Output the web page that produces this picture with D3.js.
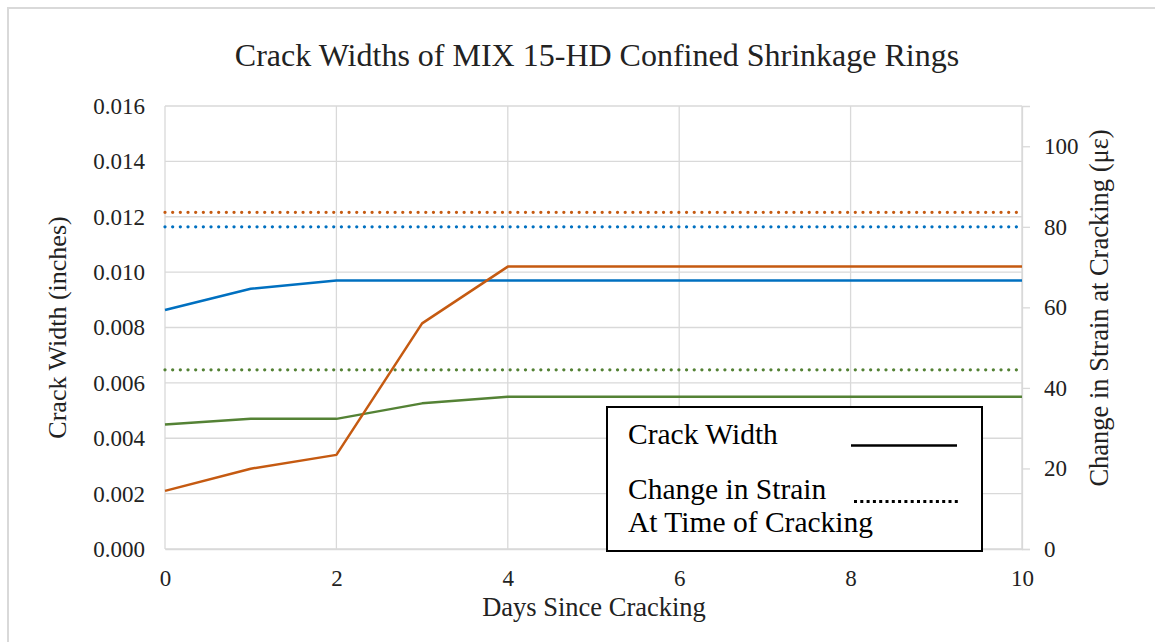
<!DOCTYPE html>
<html><head><meta charset="utf-8">
<script src="https://cdn.jsdelivr.net/npm/d3@7"></script>
<style>
html,body{margin:0;padding:0;background:#fff;}
svg{display:block;font-family:"Liberation Serif","Times New Roman",serif;}
</style></head>
<body>
<script>
const days = [0,1,2,3,4,5,6,7,8,9,10];
const crackBlue   = [0.00863,0.0094,0.0097,0.0097,0.0097,0.0097,0.0097,0.0097,0.0097,0.0097,0.0097];
const crackOrange = [0.0021,0.0029,0.0034,0.00815,0.0102,0.0102,0.0102,0.0102,0.0102,0.0102,0.0102];
const crackGreen  = [0.0045,0.0047,0.0047,0.00526,0.0055,0.0055,0.0055,0.0055,0.0055,0.0055,0.0055];
const strainBlue = 80, strainOrange = 83.6, strainGreen = 44.5;
const leftTicks = [0,0.002,0.004,0.006,0.008,0.010,0.012,0.014,0.016];
const rightTicks = [0,20,40,60,80,100];
const xTicks = [0,2,4,6,8,10];
const colors = {blue:"#0070C0", orange:"#C55A11", green:"#548235"};

const W=1155,H=642;
const svg=d3.select("body").append("svg").attr("width",W).attr("height",H);
svg.append("rect").attr("x",8).attr("y",8).attr("width",1160).attr("height",650)
  .attr("fill","#fff").attr("stroke","#d9d9d9").attr("stroke-width",2);

const L=165,R=1022,T=106,B=549;
const x=d3.scaleLinear().domain([0,10]).range([L,R]);
const y=d3.scaleLinear().domain([0,0.016]).range([B,T]);
const y2=d3.scaleLinear().domain([0,110]).range([B,T]);

// grid
const g=svg.append("g");
g.selectAll(".hg").data(leftTicks).join("line")
  .attr("x1",L).attr("x2",R).attr("y1",d=>y(d)).attr("y2",d=>y(d))
  .attr("stroke","#d9d9d9").attr("stroke-width",1.3);
g.selectAll(".vg").data(xTicks).join("line")
  .attr("y1",T).attr("y2",B).attr("x1",d=>x(d)).attr("x2",d=>x(d))
  .attr("stroke","#d9d9d9").attr("stroke-width",1.3);

// axes
const fs=23;
const ax=svg.append("g").attr("transform",`translate(${L-20},0)`)
  .call(d3.axisLeft(y).tickValues(leftTicks).tickFormat(d3.format(".3f")).tickSize(0).tickPadding(0));
ax.select(".domain").remove();
ax.selectAll("text").attr("font-size",fs).attr("fill","#222").attr("font-family","Liberation Serif");

const ax2=svg.append("g").attr("transform",`translate(${R},0)`)
  .call(d3.axisRight(y2).tickValues(rightTicks).tickSize(8).tickPadding(14));
ax2.select(".domain").attr("stroke","#d9d9d9").attr("stroke-width",1.3);
ax2.selectAll("line").attr("stroke","#d9d9d9").attr("stroke-width",1.3);
ax2.selectAll("text").attr("font-size",fs).attr("fill","#222").attr("font-family","Liberation Serif");

const axb=svg.append("g").attr("transform",`translate(0,${B})`)
  .call(d3.axisBottom(x).tickValues(xTicks).tickSize(0).tickPadding(21));
axb.select(".domain").attr("stroke","#d9d9d9").attr("stroke-width",1.3);
axb.selectAll("text").attr("font-size",fs).attr("fill","#222").attr("font-family","Liberation Serif");

// dotted strain lines
const strains=[[strainOrange,colors.orange],[strainBlue,colors.blue],[strainGreen,colors.green]];
svg.selectAll(".dot").data(strains).join("line")
  .attr("x1",x(0)).attr("x2",x(10)).attr("y1",d=>y2(d[0])).attr("y2",d=>y2(d[0]))
  .attr("stroke",d=>d[1]).attr("stroke-width",3.3).attr("stroke-linecap","round")
  .attr("stroke-dasharray","0 7.67");

// crack lines
const line=d3.line().x((d,i)=>x(days[i])).y(d=>y(d));
[[crackBlue,colors.blue],[crackGreen,colors.green],[crackOrange,colors.orange]].forEach(([s,c])=>{
  svg.append("path").attr("d",line(s)).attr("fill","none").attr("stroke",c).attr("stroke-width",2.5).attr("stroke-linejoin","round");
});

// titles
svg.append("text").attr("x",597).attr("y",66).attr("text-anchor","middle")
  .attr("font-size",32).attr("fill","#222").text("Crack Widths of MIX 15-HD Confined Shrinkage Rings");
svg.append("text").attr("x",594).attr("y",616).attr("text-anchor","middle")
  .attr("font-size",26.5).attr("fill","#222").text("Days Since Cracking");
svg.append("text").attr("transform",`translate(66,${(T+B)/2}) rotate(-90)`).attr("text-anchor","middle")
  .attr("font-size",26).attr("fill","#222").text("Crack Width (inches)");
svg.append("text").attr("transform",`translate(1108,308) rotate(-90)`).attr("text-anchor","middle")
  .attr("font-size",26.5).attr("fill","#222").text("Change in Strain at Cracking (με)");

// legend
const lg=svg.append("g");
lg.append("rect").attr("x",607).attr("y",407).attr("width",375).attr("height",144)
  .attr("fill","#fff").attr("stroke","#000").attr("stroke-width",2);
lg.append("text").attr("x",628).attr("y",444).attr("font-size",29.5).attr("fill","#000").text("Crack Width");
lg.append("text").attr("x",628).attr("y",499).attr("font-size",29.5).attr("fill","#000").text("Change in Strain");
lg.append("text").attr("x",628).attr("y",532).attr("font-size",29.5).attr("fill","#000").text("At Time of Cracking");
lg.append("line").attr("x1",851).attr("x2",957).attr("y1",445.5).attr("y2",445.5).attr("stroke","#000").attr("stroke-width",2.5);
lg.append("line").attr("x1",854).attr("x2",960).attr("y1",501.5).attr("y2",501.5).attr("stroke","#000").attr("stroke-width",3).attr("stroke-dasharray","3 3.3");
</script>
</body></html>
